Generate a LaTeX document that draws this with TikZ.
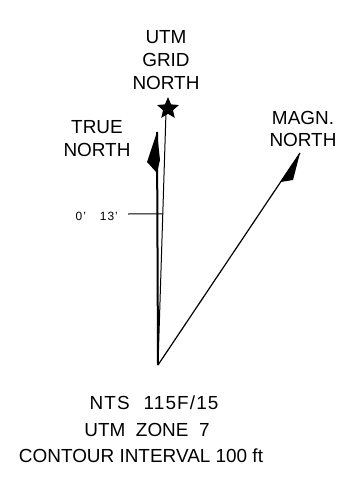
\documentclass[tikz,border=0pt]{standalone}
\usepackage{fontspec}
\setmainfont{Liberation Sans}
\usetikzlibrary{shapes.geometric,calc}
\begin{document}
\begin{tikzpicture}[x=1bp, y=-1bp,
    big text/.style={font=\fontsize{19}{23}\selectfont, align=center, inner sep=0pt},
    small text/.style={font=\fontsize{12}{14}\selectfont\addfontfeature{LetterSpace=8}, inner sep=0pt}]
\useasboundingbox (0,0) rectangle (361,479);
% points of the diagram
\coordinate (base) at (158,365);
\coordinate (true tip) at (157,132);
\coordinate (grid tip) at (166,112);
\coordinate (magn tip) at (300,153);
% the three norths
\draw[line width=2bp] (base) -- (true tip);
\draw[line width=1bp] (base) -- (grid tip);
\draw[line width=1.2bp] (base) -- (magn tip);
\fill (true tip) -- (147,162) -- (157,173) -- (160,160) -- cycle;
\fill (magn tip) -- ($(base)!0.863!(magn tip)$) -- (293,180) -- cycle;
\node[star, star points=5, star point ratio=2.2, fill, minimum size=23bp, inner sep=0pt] (grid star) at (168,108.6) {};
% labels
\node[big text] (grid label) at (166,60) {UTM\\GRID\\NORTH};
\node[big text] (true label) at (97,139) {TRUE\\NORTH};
\node[big text] (magn label) at (303,129) {MAGN.\\NORTH};
\node[small text, anchor=east] (angle label) at (118,216) {0'\hspace{14bp}13'};
\coordinate (angle start) at (128,214);
\draw[line width=1bp] (angle start) -- ($(base)!0.597!(grid tip)$);
\node[big text, font=\fontsize{19}{23}\selectfont\addfontfeature{LetterSpace=6}] (sheet label) at (154,403) {NTS\hspace{14bp}115F/15};
\node[big text] (zone label) at (147,430) {UTM \ ZONE \ 7};
\node[big text] (contour label) at (141,456) {CONTOUR INTERVAL 100 ft};
\end{tikzpicture}
\end{document}
